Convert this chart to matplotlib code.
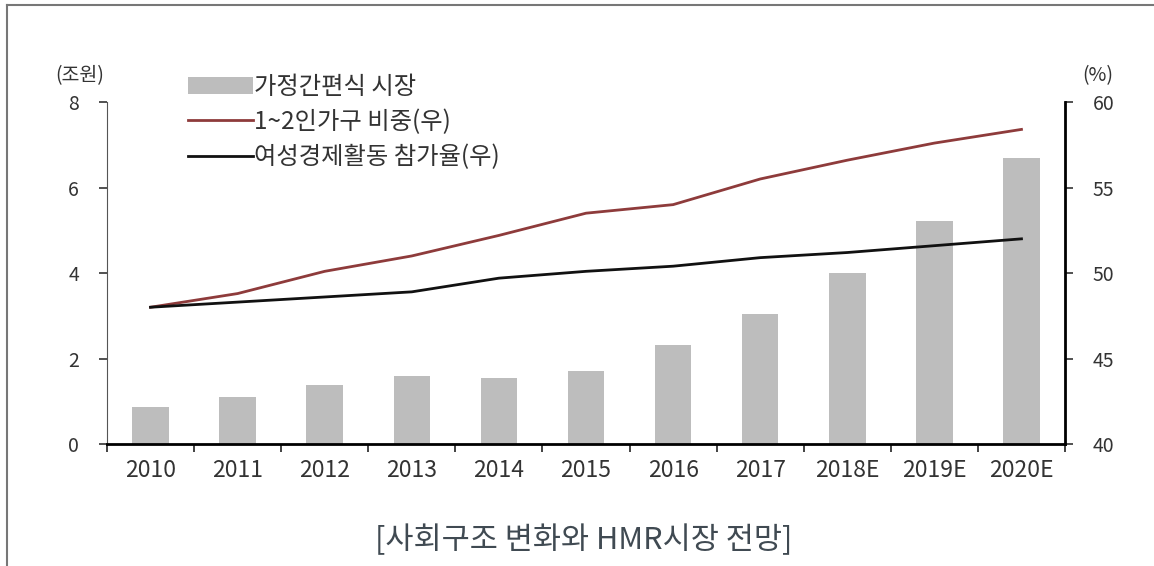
# 가정간편식 시장 규모와 1~2인 가구 / 여성 경제활동 참가율

import numpy as np
import matplotlib.pyplot as plt
from matplotlib.lines import Line2D

plt.rcParams['font.family'] = ['Noto Sans CJK KR', 'DejaVu Sans']

# Data
years = ['2010', '2011', '2012', '2013', '2014', '2015', '2016', '2017', '2018E', '2019E', '2020E']
hmr_market = [0.86, 1.10, 1.39, 1.60, 1.55, 1.71, 2.31, 3.04, 4.01, 5.22, 6.68]          # 조원
small_household = [48.0, 48.8, 50.1, 51.0, 52.2, 53.5, 54.0, 55.5, 56.6, 57.6, 58.4]     # %
female_participation = [48.0, 48.3, 48.6, 48.9, 49.7, 50.1, 50.4, 50.9, 51.2, 51.6, 52.0]  # %

labels = ['가정간편식 시장', '1~2인가구 비중(우)', '여성경제활동 참가율(우)']

text_color = '#333333'
x = np.arange(len(years))

fig = plt.figure(figsize=(11.54, 5.66), dpi=100)
ax1 = fig.add_axes([0.0927, 0.2155, 0.8302, 0.6042])
ax2 = ax1.twinx()

# Bars on left axis
bars = ax1.bar(x, hmr_market, width=0.42, color='#bdbdbd', label=labels[0], zorder=2)
ax1.set_xlim(-0.5, len(years) - 0.5)
ax1.set_ylim(0, 8)
ax1.set_yticks([0, 2, 4, 6, 8])

# Lines on right axis
l1, = ax2.plot(x, small_household, color='#8e3b3b', lw=2, label=labels[1], zorder=3)
l2, = ax2.plot(x, female_participation, color='#111111', lw=2, label=labels[2], zorder=3)
ax2.set_ylim(40, 60)
ax2.set_yticks([40, 45, 50, 55, 60])

# Spines and ticks
for ax in (ax1, ax2):
    ax.spines['top'].set_visible(False)
    ax.tick_params(labelsize=14, colors=text_color, length=6, width=1.2)
ax1.spines['right'].set_visible(False)
ax2.spines['left'].set_visible(False)
ax2.spines['bottom'].set_visible(False)
ax1.spines['left'].set_color('#555555')
ax1.spines['bottom'].set_linewidth(2)
ax2.spines['right'].set_linewidth(2)

ax1.set_xticks(x)
ax1.set_xticklabels(years)
ax1.set_xticks(np.arange(-0.5, len(years), 1), minor=True)
ax1.tick_params(axis='x', which='major', length=0, pad=11, labelsize=16.5)
ax1.tick_params(axis='x', which='minor', length=6, width=1.2, color='#222222')
ax1.tick_params(axis='y', pad=14)
ax2.tick_params(axis='y', pad=14)

# Units
fig.text(0.0693, 0.867, '(조원)', fontsize=14, color=text_color, ha='center', va='center')
fig.text(0.9515, 0.866, '(%)', fontsize=14, color=text_color, ha='center', va='center')

# Legend
fig.legend(handles=[bars, l1, l2], labels=labels, loc='upper left',
           bbox_to_anchor=(0.163, 0.870), frameon=False, fontsize=17.5,
           handlelength=2.67, handletextpad=0.05, labelspacing=0.38, borderpad=0,
           borderaxespad=0, labelcolor=text_color)

# Caption
fig.text(0.506, 0.046, '[사회구조 변화와 HMR시장 전망]', fontsize=22, color='#404a52',
         ha='center', va='center', fontweight='light')

# Frame lines around the figure (top and left only)
fig.add_artist(Line2D([0.006, 1.0], [0.991, 0.991], color='#777777', lw=1.5))
fig.add_artist(Line2D([0.006, 0.006], [0.0, 0.991], color='#777777', lw=1.5))

fig.savefig('out.png', dpi=100)
